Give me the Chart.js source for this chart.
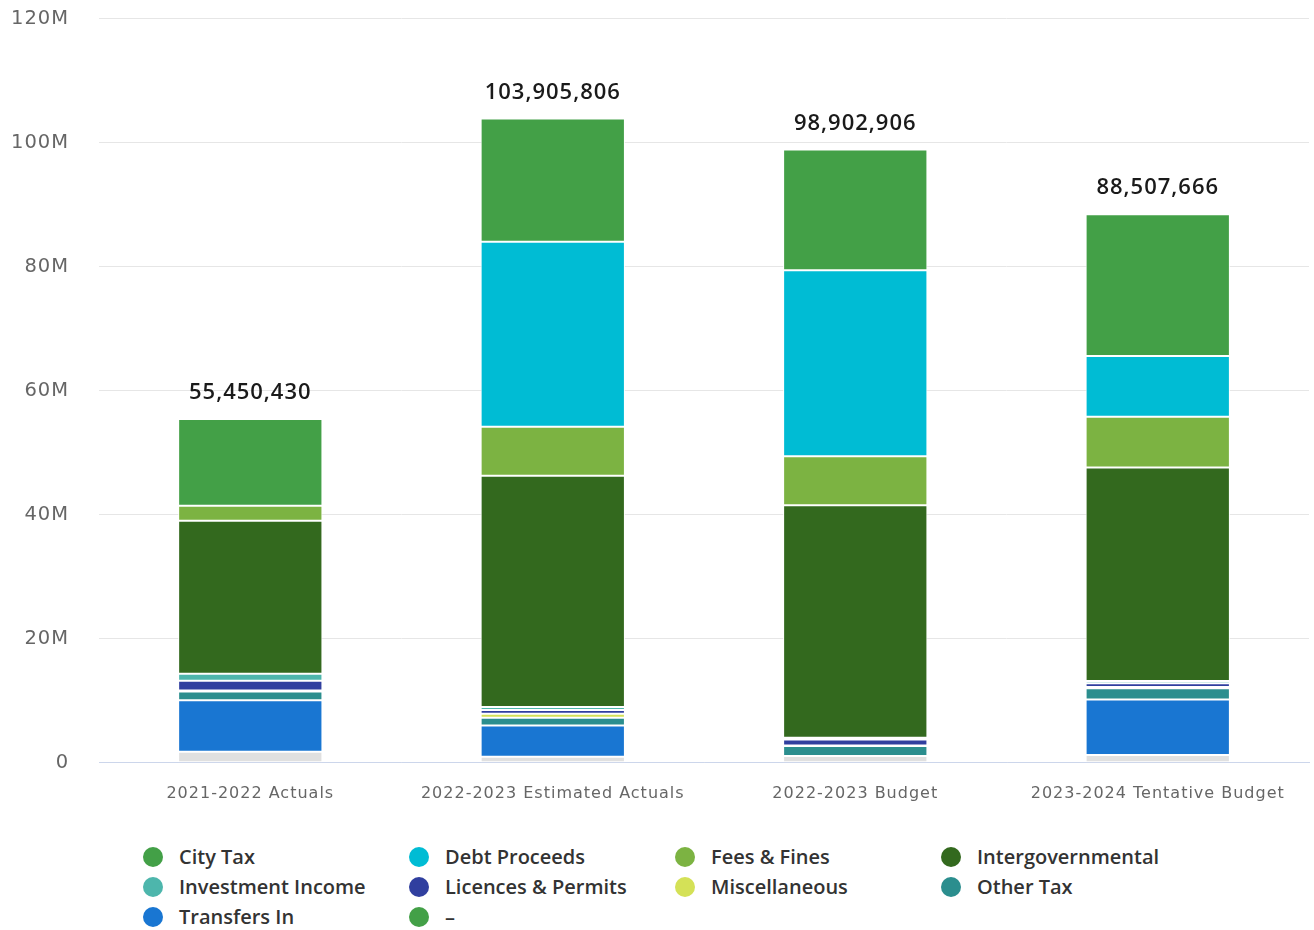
<!DOCTYPE html>
<html>
<head>
<meta charset="utf-8">
<script src="https://cdn.jsdelivr.net/npm/chart.js@4.4.1/dist/chart.umd.min.js"></script>
<style>
  body { margin: 0; background: #fff; font-family: "DejaVu Sans", sans-serif; overflow: hidden; }
  #wrap { position: absolute; left: -27px; top: -23px; width: 1341px; height: 839px; }
  #legend { position: absolute; left: 143px; top: 843px; width: 1100px; }
  .item { position: absolute; display: flex; align-items: center; font-family: "Open Sans", sans-serif; font-size: 20px; font-weight: 600; color: #333; white-space: nowrap; }
  .dot { width: 20px; height: 20px; border-radius: 50%; margin-right: 16px; }
</style>
</head>
<body>
<div id="wrap"><canvas id="chart"></canvas></div>
<div id="legend"></div>
<script>
const categories = ['2021-2022 Actuals', '2022-2023 Estimated Actuals', '2022-2023 Budget', '2023-2024 Tentative Budget'];
const totals = [55450430, 103905806, 98902906, 88507666];

// series, listed bottom of stack first
const seriesNames = ['–', 'Transfers In', 'Other Tax', 'Miscellaneous', 'Licences & Permits', 'Investment Income', 'Intergovernmental', 'Fees & Fines', 'Debt Proceeds', 'City Tax'];
const blankValues = [1.8, 0.97, 1.1, 1.24];
const transfersIn = [8.3, 5.05, 0, 8.97];
const otherTax = [1.4, 1.24, 1.6, 1.8];
const miscellaneous = [0.15, 0.65, 0.1, 0.2];
const licences = [1.6, 0.6, 0.97, 0.6];
const investmentIncome = [1.1, 0.5, 0.25, 0.4];
const intergovernmental = [24.7, 37.3, 37.5, 34.4];
const feesFines = [2.4, 7.9, 7.9, 8.2];
const debtProceeds = [0, 29.8, 30.0, 9.8];
const cityTax = [14.0, 19.9, 19.5, 22.85];
const seriesValues = [blankValues, transfersIn, otherTax, miscellaneous, licences, investmentIncome, intergovernmental, feesFines, debtProceeds, cityTax];

const barColors = ['#e0e0e0', '#1976d2', '#2b8e8e', '#d4e157', '#303f9f', '#4db6ac', '#33691e', '#7cb342', '#00bcd4', '#43a047'];
const legendColors = ['#43a047', '#1976d2', '#2b8e8e', '#d4e157', '#303f9f', '#4db6ac', '#33691e', '#7cb342', '#00bcd4', '#43a047'];

const datasets = seriesNames.map((name, i) => ({
  label: name,
  data: seriesValues[i].map((v) => v * 1e6),
  backgroundColor: barColors[i],
  borderColor: '#ffffff',
  borderWidth: 1,
  borderSkipped: false,
  categoryPercentage: 1,
  barPercentage: 0.477
}));

// wider letter spacing like the original axis text
const spacing = {
  id: 'spacing',
  beforeLayout(chart) { chart.ctx.letterSpacing = '1px'; },
  beforeDraw(chart) { chart.ctx.letterSpacing = '1px'; }
};

const totalLabels = {
  id: 'totalLabels',
  afterDatasetsDraw(chart) {
    const { ctx } = chart;
    const x = chart.scales.x;
    const y = chart.scales.y;
    ctx.save();
    ctx.letterSpacing = '1px';
    ctx.font = '600 22px "Open Sans", sans-serif';
    ctx.fillStyle = '#1a1a1a';
    ctx.textAlign = 'center';
    ctx.textBaseline = 'middle';
    totals.forEach((t, i) => {
      ctx.fillText(t.toLocaleString('en-US'), x.getPixelForValue(i), y.getPixelForValue(t) - 26);
    });
    ctx.restore();
  }
};

new Chart(document.getElementById('chart'), {
  type: 'bar',
  data: { labels: categories, datasets },
  options: {
    responsive: true,
    maintainAspectRatio: false,
    animation: false,
    layout: { padding: { top: 8, left: 8, right: 5, bottom: 0 } },
    plugins: { legend: { display: false }, tooltip: { enabled: false } },
    scales: {
      x: {
        stacked: true,
        grid: { display: false },
        border: { color: '#ccd6eb', width: 1 },
        ticks: { color: '#666', font: { size: 16, family: '"DejaVu Sans", sans-serif' }, padding: 13 }
      },
      y: {
        stacked: true,
        min: 0,
        max: 120e6,
        grid: { color: '#e6e6e6', drawTicks: false },
        border: { display: false },
        ticks: {
          stepSize: 20e6,
          color: '#666',
          padding: 30,
          font: { size: 19.5, family: '"DejaVu Sans", sans-serif' },
          callback: (v) => (v === 0 ? '0' : v / 1e6 + 'M')
        }
      }
    }
  },
  plugins: [spacing, totalLabels]
});

// legend in the original order (top of stack first), 4 columns
const legend = document.getElementById('legend');
const order = seriesNames.map((_, i) => seriesNames.length - 1 - i);
order.forEach((idx, k) => {
  const item = document.createElement('div');
  item.className = 'item';
  item.style.left = (k % 4) * 266 + 'px';
  item.style.top = Math.floor(k / 4) * 30 + 'px';
  item.innerHTML = `<span class="dot" style="background:${legendColors[idx]}"></span>${seriesNames[idx]}`;
  legend.appendChild(item);
});
</script>
</body>
</html>
